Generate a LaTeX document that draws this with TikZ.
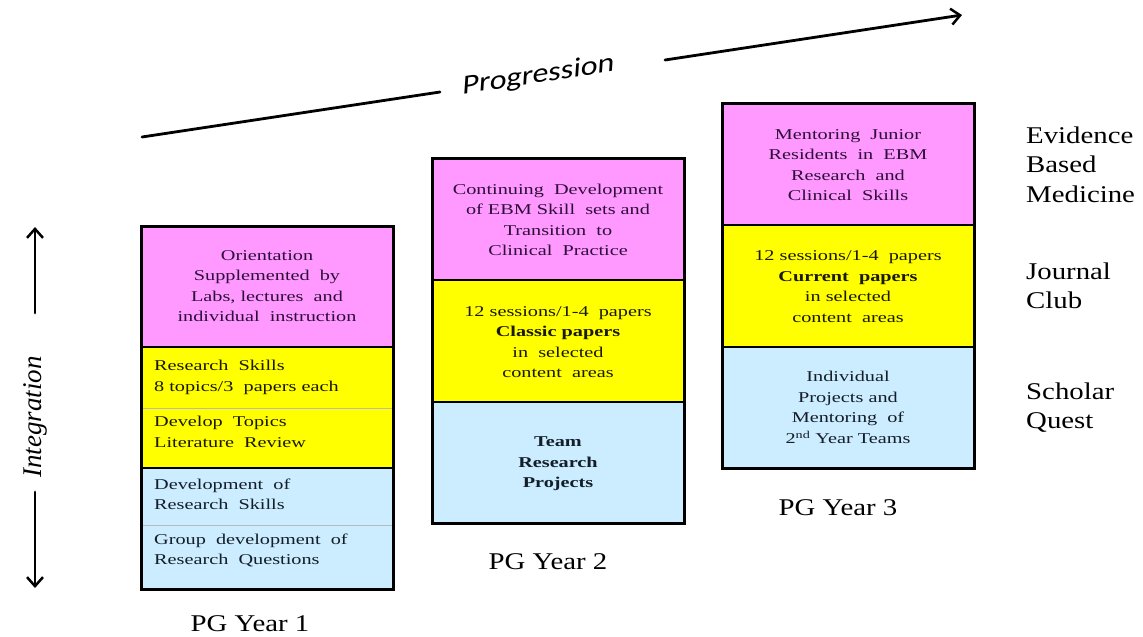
\documentclass[tikz,border=0pt]{standalone}
\usepackage{fontspec}
\setmainfont{Liberation Serif}
\newfontfamily\boxfont{Liberation Serif}[FakeStretch=1.35]
\newfontfamily\labfont{Liberation Serif}[FakeStretch=1.2]
\newfontfamily\progfont{Carlito}[FakeSlant=0.22, FakeStretch=1.2]
\usetikzlibrary{arrows.meta}
\definecolor{pinkc}{HTML}{FF99FF}
\definecolor{yelc}{HTML}{FFFF00}
\definecolor{bluec}{HTML}{CCECFF}
\definecolor{pinktext}{HTML}{2E0F3A}
\definecolor{yeltext}{HTML}{1A1A00}
\definecolor{bluetext}{HTML}{141E28}
\begin{document}
\begin{tikzpicture}[x=1pt,y=-1pt,
  sec/.style={rectangle, inner sep=0pt, outer sep=0pt, anchor=north west, minimum width=252pt},
  subline/.style={draw=gray!55, line width=0.8pt},
  divline/.style={draw=black, line width=2pt},
  frame/.style={draw=black, line width=3pt},
  txt/.style={inner sep=0pt, align=center, font=\boxfont\fontsize{15}{20.5}\selectfont},
  txtl/.style={inner sep=0pt, align=left, anchor=west, font=\boxfont\fontsize{15}{20.5}\selectfont},
  yearlab/.style={inner sep=0pt, font=\labfont\fontsize{24}{28}\selectfont},
  rlab/.style={inner sep=0pt, align=left, anchor=west, font=\labfont\fontsize{24}{29.5}\selectfont},
  garrow/.style={line width=2.8pt, line cap=round},
  tipend/.style={-{Straight Barb[length=9pt,width=16pt,line width=2.5pt]}}
]
\useasboundingbox (0,0) rectangle (1143,637);
\fill[white] (0,0) rectangle (1143,637);

% ---------- Box 1 ----------
\node[sec, fill=pinkc, minimum height=121pt] (p1) at (141,226) {};
\node[sec, fill=yelc, minimum height=61pt] (y1a) at (141,347) {};
\node[sec, fill=yelc, minimum height=60pt] (y1b) at (141,408) {};
\node[sec, fill=bluec, minimum height=57pt] (b1a) at (141,468) {};
\node[sec, fill=bluec, minimum height=64pt] (b1b) at (141,525) {};
\draw[subline] (y1a.south west) -- (y1a.south east);
\draw[subline] (b1a.south west) -- (b1a.south east);
\draw[divline] (p1.south west) -- (p1.south east);
\draw[divline] (y1b.south west) -- (y1b.south east);
\draw[frame] (p1.north west) rectangle (b1b.south east);

\node[txt, text=pinktext] (t1p) at (267,286) {Orientation\\Supplemented\ \ by\\Labs, lectures\ \ and\\individual\ \ instruction};
\node[txtl, text=yeltext] (t1ya) at (154,377.5) {Research\ \ Skills\\8 topics/3\ \ papers each};
\node[txtl, text=yeltext] (t1yb) at (154,432) {Develop\ \ Topics\\Literature\ \ Review};
\node[txtl, text=bluetext] (t1ba) at (154,494.5) {Development\ \ of\\Research\ \ Skills};
\node[txtl, text=bluetext] (t1bb) at (154,550.5) {Group\ \ development\ \ of\\Research\ \ Questions};

% ---------- Box 2 ----------
\node[sec, fill=pinkc, minimum height=122pt] (p2) at (432,158) {};
\node[sec, fill=yelc, minimum height=122pt] (y2) at (432,280) {};
\node[sec, fill=bluec, minimum height=121pt] (b2) at (432,402) {};
\draw[divline] (p2.south west) -- (p2.south east);
\draw[divline] (y2.south west) -- (y2.south east);
\draw[frame] (p2.north west) rectangle (b2.south east);

\node[txt, text=pinktext] (t2p) at (558,220) {Continuing\ \ Development\\of EBM Skill\ \ sets and\\Transition\ \ to\\Clinical\ \ Practice};
\node[txt, text=yeltext] (t2y) at (558,342) {12 sessions/1-4\ \ papers\\\textbf{Classic papers}\\in\ \ selected\\content\ \ areas};
\node[txt, text=bluetext, font=\boxfont\bfseries\fontsize{15}{20.5}\selectfont] (t2b) at (558,464) {Team\\Research\\Projects};

% ---------- Box 3 ----------
\node[sec, fill=pinkc, minimum height=122pt] (p3) at (722,103) {};
\node[sec, fill=yelc, minimum height=122pt] (y3) at (722,225) {};
\node[sec, fill=bluec, minimum height=121pt] (b3) at (722,347) {};
\draw[divline] (p3.south west) -- (p3.south east);
\draw[divline] (y3.south west) -- (y3.south east);
\draw[frame] (p3.north west) rectangle (b3.south east);

\node[txt, text=pinktext] (t3p) at (848,165) {Mentoring\ \ Junior\\Residents\ \ in\ \ EBM\\Research\ \ and\\Clinical\ \ Skills};
\node[txt, text=yeltext] (t3y) at (848,286.5) {12 sessions/1-4\ \ papers\\\textbf{Current\ \ papers}\\in selected\\content\ \ areas};
\node[txt, text=bluetext] (t3b) at (848,407.5) {Individual\\Projects and\\Mentoring\ \ of\\2\textsuperscript{nd} Year Teams};

% ---------- Year labels ----------
\node[yearlab] (yr1) at (250,624) {PG Year 1};
\node[yearlab] (yr2) at (548,562) {PG Year 2};
\node[yearlab] (yr3) at (838,508) {PG Year 3};

% ---------- Right labels ----------
\node[rlab] (ebm) at (1026,164.5) {Evidence\\Based\\Medicine};
\node[rlab] (jc) at (1026,286) {Journal\\Club};
\node[rlab] (sq) at (1026,407.5) {Scholar\\Quest};

% ---------- Progression arrow ----------
\coordinate (g1) at (142,137);
\coordinate (g2) at (440,92);
\coordinate (g3) at (665,60);
\coordinate (g4) at (962,15);
\node[inner sep=0pt, rotate=8.6, font=\progfont\fontsize{27}{30}\selectfont] (prog) at (537,76) {Progression};
\draw[garrow] (g1) -- (g2);
\draw[garrow, tipend] (g3) -- (g4);

% ---------- Integration arrow ----------
\node[inner sep=0pt, rotate=90, font=\itshape\fontsize{27}{30}\selectfont] (integ) at (35,417) {Integration};
\coordinate (i1) at (35,313);
\coordinate (i2) at (35,227);
\coordinate (i3) at (35,492);
\coordinate (i4) at (35,588);
\draw[garrow, tipend] (i1) -- (i2);
\draw[garrow, tipend] (i3) -- (i4);
\end{tikzpicture}
\end{document}
